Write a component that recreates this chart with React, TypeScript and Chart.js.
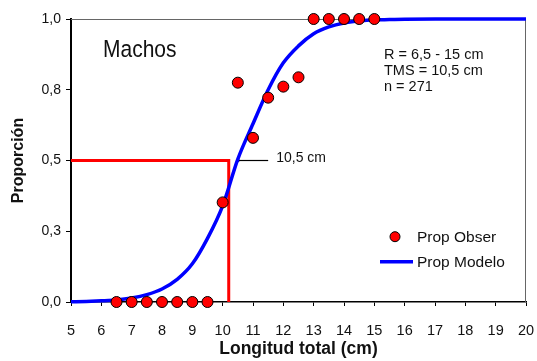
import React, { useEffect, useRef } from "react";
import { Chart, registerables } from "chart.js";

Chart.register(...registerables);

// Observed proportions
const obsX = [6.5, 7, 7.5, 8, 8.5, 9, 9.5, 10, 10.5, 11, 11.5, 12, 12.5, 13, 13.5, 14, 14.5, 15];
const obsY = [0, 0, 0, 0, 0, 0, 0, 0.352, 0.775, 0.58, 0.722, 0.761, 0.794, 1, 1, 1, 1, 1];

// Model curve
const modelX = [5, 5.5, 6, 6.5, 7, 7.5, 8, 8.5, 9, 9.5, 10, 10.5, 11, 11.5, 12, 12.5, 13, 13.5, 14, 14.5, 15, 15.5, 16, 17, 18, 19, 20];
const modelY = [0.001, 0.002, 0.004, 0.007, 0.014, 0.026, 0.046, 0.08, 0.135, 0.225, 0.34, 0.505, 0.63, 0.75, 0.845, 0.905, 0.948, 0.972, 0.986, 0.993, 0.997, 0.998, 0.999, 1, 1, 1, 1];

// Red cut line (50 %)
const cutX = [5, 10.2, 10.2];
const cutY = [0.5, 0.5, 0];

// Pointer to label
const pointerX = [10.5, 11.5];
const pointerY = [0.5, 0.5];

const xMin = 5;
const xMax = 20;
const xStep = 1;
const yTicks = [0, 0.25, 0.5, 0.75, 1];

const labelSex = "Machos";
const infoLines = ["R = 6,5 - 15 cm", "TMS = 10,5 cm", "n = 271"];
const pointerLabel = "10,5 cm";
const legendObs = "Prop Obser";
const legendModel = "Prop Modelo";
const xTitle = "Longitud total (cm)";
const yTitle = "Proporción";

const FONT = "'Liberation Sans', Arial, Helvetica, sans-serif";

const toPts = (xs: number[], ys: number[]) => xs.map((x, i) => ({ x, y: ys[i] }));

const overlay = {
  id: "overlay",
  beforeDatasetsDraw(chart: any) {
    const { ctx, chartArea: ca } = chart;
    ctx.save();
    ctx.strokeStyle = "#666";
    ctx.lineWidth = 1;
    ctx.beginPath();
    ctx.moveTo(ca.left, ca.top + 0.5);
    ctx.lineTo(ca.right - 0.5, ca.top + 0.5);
    ctx.lineTo(ca.right - 0.5, ca.bottom);
    ctx.stroke();
    ctx.restore();
  },
  afterDraw(chart: any) {
    const { ctx, chartArea: ca } = chart;
    const xs = chart.scales.x;
    const ys = chart.scales.y;
    ctx.save();
    ctx.fillStyle = "#111";
    ctx.textBaseline = "alphabetic";
    ctx.textAlign = "left";

    // Machos
    ctx.save();
    ctx.translate(ca.left + 32, ca.top + 38.3);
    ctx.scale(1, 1.13);
    ctx.font = `21px ${FONT}`;
    ctx.fillText(labelSex, 0, 0);
    ctx.restore();

    // info lines
    ctx.font = `14.5px ${FONT}`;
    infoLines.forEach((t, i) => {
      ctx.fillText(t, ca.left + 313, ca.top + 40.3 + i * 15.6);
    });

    // pointer label
    ctx.font = `14px ${FONT}`;
    ctx.fillText(pointerLabel, xs.getPixelForValue(pointerX[1]) + 8, ys.getPixelForValue(pointerY[1]) + 1.5);

    // legend
    const lx = ca.right - 146;
    ctx.font = `15.5px ${FONT}`;
    ctx.beginPath();
    ctx.arc(lx + 15, ca.top + 217.7, 5, 0, Math.PI * 2);
    ctx.fillStyle = "#ff0000";
    ctx.fill();
    ctx.strokeStyle = "#000";
    ctx.lineWidth = 1;
    ctx.stroke();
    ctx.fillStyle = "#111";
    ctx.fillText(legendObs, lx + 37, ca.top + 223.3);

    ctx.beginPath();
    ctx.moveTo(lx, ca.top + 242.7);
    ctx.lineTo(lx + 33, ca.top + 242.7);
    ctx.strokeStyle = "#0000ff";
    ctx.lineWidth = 3.5;
    ctx.stroke();
    ctx.fillText(legendModel, lx + 37, ca.top + 247.7);
    ctx.restore();
  },
};

export default function App() {
  const ref = useRef<HTMLCanvasElement>(null);
  useEffect(() => {
    if (!ref.current) return;
    const chart = new Chart(ref.current, {
      type: "scatter",
      data: {
        datasets: [
          {
            label: legendObs,
            data: toPts(obsX, obsY),
            backgroundColor: "#ff0000",
            borderColor: "#000000",
            borderWidth: 1,
            pointRadius: 5.5,
            showLine: false,
            order: 0,
            clip: false,
          } as any,
          {
            label: legendModel,
            data: toPts(modelX, modelY),
            borderColor: "#0000ff",
            borderWidth: 3.5,
            pointRadius: 0,
            showLine: true,
            cubicInterpolationMode: "monotone",
            order: 1,
            clip: false,
          } as any,
          {
            label: "pointer",
            data: toPts(pointerX, pointerY),
            borderColor: "#000000",
            backgroundColor: "#000000",
            borderWidth: 1.2,
            pointRadius: [1.8, 0],
            pointBorderWidth: 0,
            showLine: true,
            order: 2,
            clip: false,
          } as any,
          {
            label: "cut",
            data: toPts(cutX, cutY),
            borderColor: "#ff0000",
            borderWidth: 3,
            pointRadius: 0,
            showLine: true,
            tension: 0,
            order: 3,
            clip: false,
          } as any,
        ],
      },
      options: {
        animation: false,
        responsive: true,
        maintainAspectRatio: false,
        layout: { padding: { top: 19, right: 11, left: 0, bottom: 0 } },
        plugins: { legend: { display: false }, tooltip: { enabled: false } },
        scales: {
          x: {
            type: "linear",
            min: xMin,
            max: xMax,
            ticks: {
              stepSize: xStep,
              color: "#111",
              font: { family: FONT, size: 14.5 },
              padding: 16.5,
              maxRotation: 0,
              autoSkip: false,
            },
            grid: { drawOnChartArea: false, drawTicks: true, tickLength: 4, color: "#000" },
            border: { display: true, color: "#000", width: 1.5 },
            title: {
              display: true,
              text: xTitle,
              color: "#111",
              font: { family: FONT, size: 17.5, weight: "bold" },
              padding: { top: 0, bottom: 1.5 },
            },
            afterFit: (s: any) => {
              s.height = 59;
              s.paddingLeft = 0;
              s.paddingRight = 0;
            },
          },
          y: {
            type: "linear",
            min: 0,
            max: 1,
            afterBuildTicks: (s: any) => {
              s.ticks = yTicks.map((v) => ({ value: v }));
            },
            ticks: {
              color: "#111",
              font: { family: FONT, size: 14 },
              padding: 5,
              callback: (v: any) => Number(v).toFixed(1).replace(".", ","),
            },
            grid: { drawOnChartArea: false, drawTicks: true, tickLength: 5, color: "#000" },
            border: { display: true, color: "#000", width: 2 },
            title: {
              display: true,
              text: yTitle,
              color: "#111",
              font: { family: FONT, size: 16, weight: "bold" },
              padding: { top: 9.4, bottom: 0 },
            },
            afterFit: (s: any) => {
              s.width = 71;
              s.paddingTop = 0;
              s.paddingBottom = 0;
            },
          },
        },
      } as any,
      plugins: [overlay],
    });
    return () => chart.destroy();
  }, []);
  return (
    <div style={{ position: "fixed", left: 0, top: 0, width: 537, height: 361, background: "#fff" }}>
      <canvas ref={ref} />
    </div>
  );
}
